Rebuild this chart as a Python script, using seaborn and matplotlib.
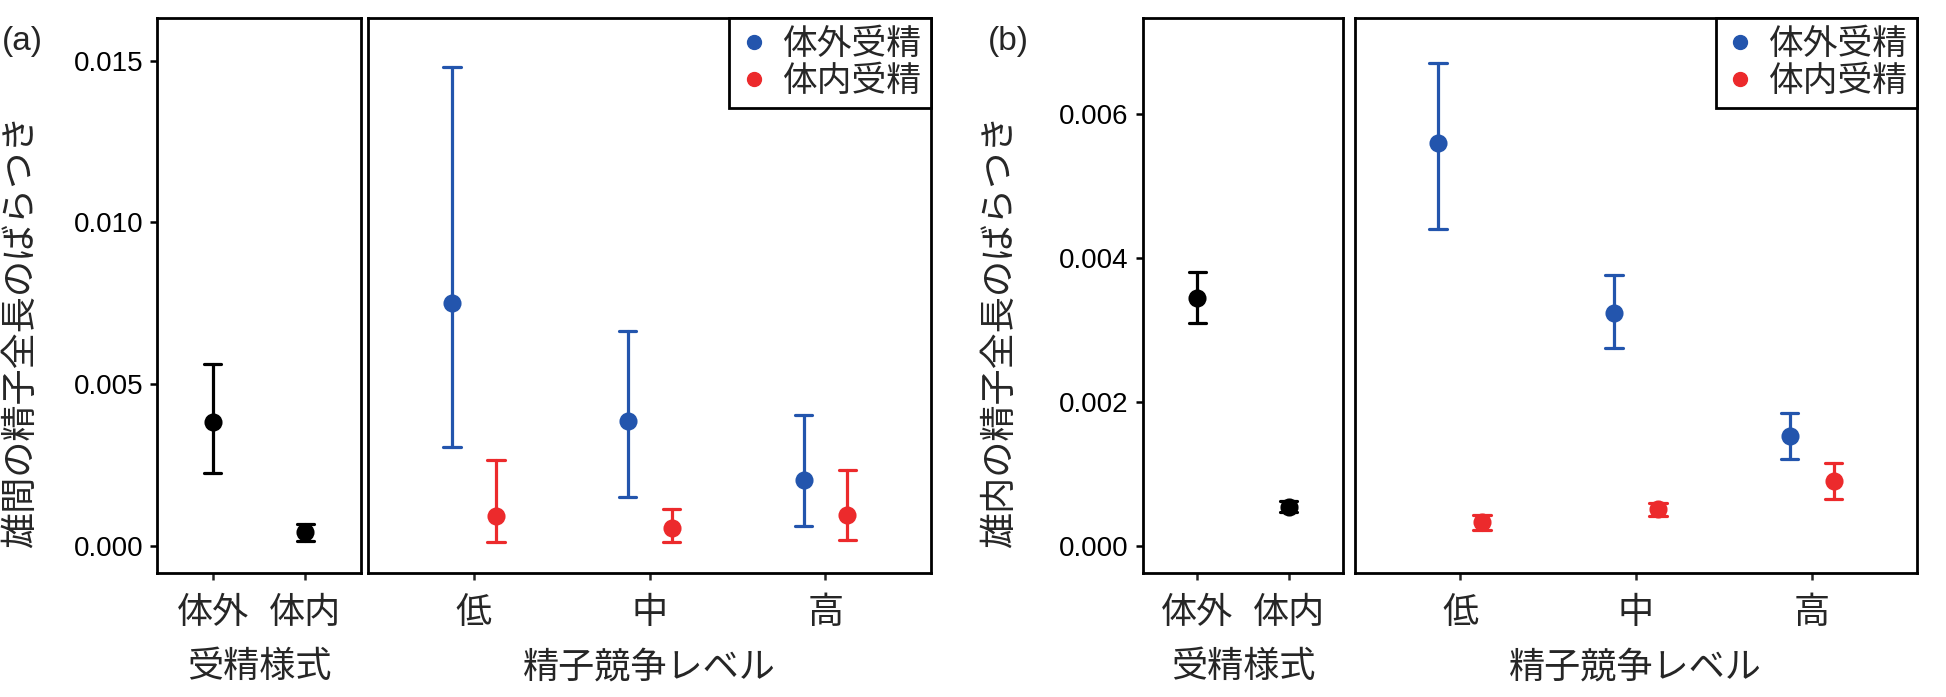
import numpy as np
import pandas as pd
import seaborn as sns
import matplotlib.pyplot as plt
from matplotlib.lines import Line2D

# --- data ---
modes = ['体外', '体内']
levels = ['低', '中', '高']
groups = ['体外受精', '体内受精']

# (a) between-male variation
a_mode_mean = [0.00383, 0.00043]
a_mode_lo = [0.00225, 0.00016]
a_mode_hi = [0.00563, 0.00069]
a_ext_mean = [0.00751, 0.00385, 0.00202]
a_ext_lo = [0.00306, 0.00150, 0.00062]
a_ext_hi = [0.01480, 0.00665, 0.00405]
a_int_mean = [0.00092, 0.00054, 0.00095]
a_int_lo = [0.00012, 0.00012, 0.00018]
a_int_hi = [0.00264, 0.00114, 0.00235]

# (b) within-male variation
b_mode_mean = [0.00344, 0.00054]
b_mode_lo = [0.00309, 0.00047]
b_mode_hi = [0.00380, 0.00062]
b_ext_mean = [0.00559, 0.00323, 0.00152]
b_ext_lo = [0.00440, 0.00275, 0.00120]
b_ext_hi = [0.00670, 0.00376, 0.00184]
b_int_mean = [0.00033, 0.00051, 0.00090]
b_int_lo = [0.00022, 0.00041, 0.00065]
b_int_hi = [0.00043, 0.00060, 0.00115]

BLUE = '#2355ad'
RED = '#ec2a2c'


def long_frame(cats, lo, mean, hi, hue=None):
    # three rows per point: median gives the mean, min/max give the interval
    rows = []
    for c, l, m, h in zip(cats, lo, mean, hi):
        for v in (l, m, h):
            rows.append({'cat': c, 'val': v, 'grp': hue})
    return pd.DataFrame(rows)


def interval(v):
    return (np.min(v), np.max(v))


sns.set_style('white')
plt.rcParams['font.family'] = ['Liberation Sans', 'Noto Sans CJK JP']
plt.rcParams['axes.linewidth'] = 2.0
plt.rcParams['xtick.major.width'] = 1.8
plt.rcParams['ytick.major.width'] = 1.8

fig = plt.figure(figsize=(19.46, 6.97), dpi=100)
bottom, height = 0.1786, 0.7958
ERR = {'linewidth': 2.3}

panels = [
    dict(tag='(a)', tag_x=0.001, ylab='雄間の精子全長のばらつき', ylab_x=0.0113,
         left=(0.0807, 0.1048), right=(0.1893, 0.2891),
         ylim=(-0.000825, 0.01632), yticks=[0, 0.005, 0.010, 0.015],
         mode=(a_mode_lo, a_mode_mean, a_mode_hi),
         ext=(a_ext_lo, a_ext_mean, a_ext_hi),
         inn=(a_int_lo, a_int_mean, a_int_hi)),
    dict(tag='(b)', tag_x=0.5075, ylab='雄内の精子全長のばらつき', ylab_x=0.514,
         left=(0.5872, 0.1031), right=(0.6961, 0.2890),
         ylim=(-0.000371, 0.007333), yticks=[0, 0.002, 0.004, 0.006],
         mode=(b_mode_lo, b_mode_mean, b_mode_hi),
         ext=(b_ext_lo, b_ext_mean, b_ext_hi),
         inn=(b_int_lo, b_int_mean, b_int_hi)),
]

for p in panels:
    # --- left: fertilization mode ---
    ax1 = fig.add_axes([p['left'][0], bottom, p['left'][1], height])
    df_mode = long_frame(modes, *p['mode'])
    sns.pointplot(data=df_mode, x='cat', y='val', order=modes, color='black',
                  estimator=np.median, errorbar=interval, capsize=0.19,
                  linestyle='none', markersize=11, err_kws=ERR, ax=ax1)
    ax1.set_xlim(-0.6, 1.6)
    ax1.set_ylim(*p['ylim'])
    ax1.set_yticks(p['yticks'])
    ax1.set_yticklabels([f'{t:.3f}' for t in p['yticks']], fontsize=20)
    ax1.tick_params(axis='y', length=5, pad=5, left=True, colors='black')
    ax1.tick_params(axis='x', length=5, pad=12, bottom=True, labelsize=26)
    ax1.set_xlabel('受精様式', fontsize=26)
    ax1.xaxis.set_label_coords(0.5, -0.172)
    ax1.xaxis.label.set_va('center')
    ax1.set_ylabel('')

    # --- right: sperm competition level ---
    ax2 = fig.add_axes([p['right'][0], bottom, p['right'][1], height])
    df_lvl = pd.concat([long_frame(levels, *p['ext'], hue=groups[0]),
                        long_frame(levels, *p['inn'], hue=groups[1])])
    sns.pointplot(data=df_lvl, x='cat', y='val', hue='grp', order=levels,
                  hue_order=groups, palette=[BLUE, RED], dodge=0.25,
                  estimator=np.median, errorbar=interval, capsize=0.10,
                  linestyle='none', markersize=11, err_kws=ERR, ax=ax2)
    ax2.set_xlim(-0.6, 2.6)
    ax2.set_ylim(*p['ylim'])
    ax2.set_yticks([])
    ax2.tick_params(axis='x', length=5, pad=12, bottom=True, labelsize=26)
    ax2.set_xlabel('精子競争レベル', fontsize=26)
    ax2.xaxis.set_label_coords(0.5, -0.172)
    ax2.xaxis.label.set_va('center')
    ax2.set_ylabel('')

    handles = [Line2D([], [], marker='o', linestyle='none', color=c, markersize=10)
               for c in (BLUE, RED)]
    leg = ax2.legend(handles, groups, loc='upper right', fontsize=25,
                     frameon=True, fancybox=False, edgecolor='black', framealpha=1,
                     borderaxespad=0, borderpad=0.3, labelspacing=0.1,
                     handlelength=0.8, handletextpad=0.4)
    leg.get_frame().set_linewidth(2.0)

    for ax in (ax1, ax2):
        for s in ax.spines.values():
            s.set_visible(True)
            s.set_color('black')

    fig.text(p['tag_x'], 0.941, p['tag'], fontsize=24, va='center', ha='left')
    fig.text(p['ylab_x'], 0.525, p['ylab'], fontsize=26, rotation=90,
             va='center', ha='center')

fig.savefig('out.png', dpi=100)
